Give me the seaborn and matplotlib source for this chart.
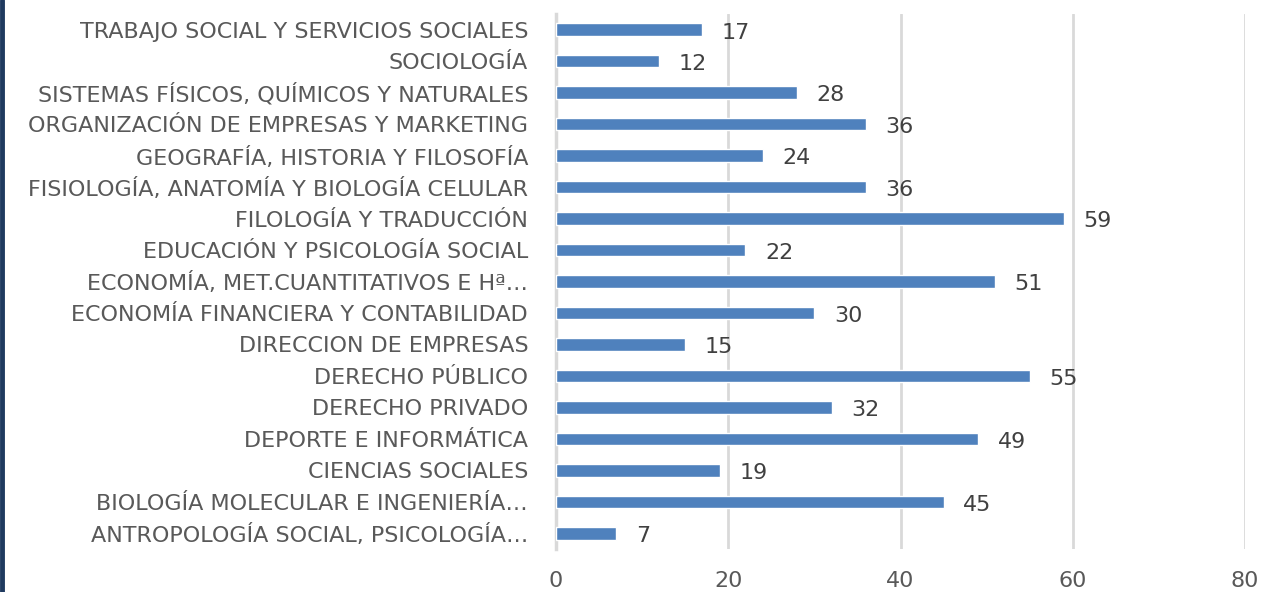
import matplotlib
matplotlib.use("Agg")
import matplotlib.pyplot as plt
import seaborn as sns
import pandas as pd

categories = [
    "TRABAJO SOCIAL Y SERVICIOS SOCIALES",
    "SOCIOLOGÍA",
    "SISTEMAS FÍSICOS, QUÍMICOS Y NATURALES",
    "ORGANIZACIÓN DE EMPRESAS Y MARKETING",
    "GEOGRAFÍA, HISTORIA Y FILOSOFÍA",
    "FISIOLOGÍA, ANATOMÍA Y BIOLOGÍA CELULAR",
    "FILOLOGÍA Y TRADUCCIÓN",
    "EDUCACIÓN Y PSICOLOGÍA SOCIAL",
    "ECONOMÍA, MET.CUANTITATIVOS E Hª…",
    "ECONOMÍA FINANCIERA Y CONTABILIDAD",
    "DIRECCION DE EMPRESAS",
    "DERECHO PÚBLICO",
    "DERECHO PRIVADO",
    "DEPORTE E INFORMÁTICA",
    "CIENCIAS SOCIALES",
    "BIOLOGÍA MOLECULAR E INGENIERÍA…",
    "ANTROPOLOGÍA SOCIAL, PSICOLOGÍA…",
]
values = [17, 12, 28, 36, 24, 36, 59, 22, 51, 30, 15, 55, 32, 49, 19, 45, 7]
x_ticks = [0, 20, 40, 60, 80]

df = pd.DataFrame({"cat": categories, "val": values})

sns.set_theme(style="white")
plt.rcParams["font.family"] = ["DejaVu Sans"]

fig = plt.figure(figsize=(12.64, 5.92), dpi=100)
ax = fig.add_axes([556 / 1264, 1 - 549 / 592, (1245 - 556) / 1264, 535 / 592])

sns.barplot(data=df, x="val", y="cat", color="#4F81BD", saturation=1,
            width=0.4, ax=ax, orient="h", zorder=3)

ax.set_xlim(0, 80)
ax.set_xticks(x_ticks)
ax.set_xticklabels([str(t) for t in x_ticks])
ax.set_ylim(len(categories) - 0.5, -0.5)
ax.set_xlabel("")
ax.set_ylabel("")

for xv in x_ticks[1:]:
    ax.axvline(xv, color="#D9D9D9", lw=2, zorder=1)

for s in ["top", "right", "bottom"]:
    ax.spines[s].set_visible(False)
ax.spines["left"].set_color("#D9D9D9")
ax.spines["left"].set_linewidth(2.5)

ax.tick_params(axis="y", length=0, pad=20, labelsize=16, labelcolor="#595959")
ax.tick_params(axis="x", length=0, pad=16, labelsize=16, labelcolor="#595959")

for i, v in enumerate(values):
    ax.annotate(str(v), xy=(v, i), xytext=(14, -2), textcoords="offset points",
                ha="left", va="center", fontsize=16, color="#404040")

# left border line
fig.add_artist(plt.Line2D([0.0017, 0.0017], [0, 1], transform=fig.transFigure,
                          color="#1F3A5F", lw=3.5))

fig.savefig("out.png", dpi=100)
